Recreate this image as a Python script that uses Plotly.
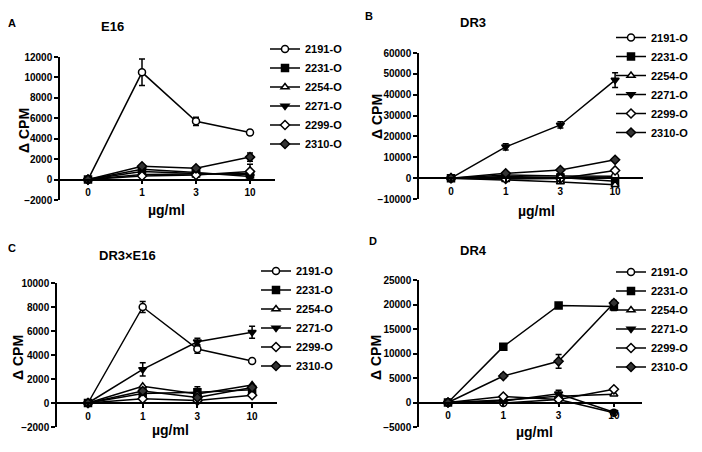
import plotly.graph_objects as go

# reference canvas is 702x452; the page body adds an 8px margin, so the
# figure is made 8px smaller and every reference position is shifted by 8px
W, H = 702, 452
OFF = 8
FW, FH = W - OFF, H - OFF

doses = ["0", "1", "3", "10"]
series_names = ["2191-O", "2231-O", "2254-O", "2271-O", "2299-O", "2310-O"]

# Panel A: E16
e16_2191 = [0, 10500, 5700, 4600]
e16_2191_err = [None, 1300, 400, 200]
e16_2231 = [0, 800, 600, 500]
e16_2254 = [0, 500, 550, 600]
e16_2271 = [0, 1000, 700, 300]
e16_2299 = [0, 350, 450, 800]
e16_2299_err = [None, None, None, 700]
e16_2310 = [0, 1300, 1100, 2200]
e16_2310_err = [None, None, None, 400]

# Panel B: DR3
dr3_2191 = [0, 1500, 1000, 900]
dr3_2231 = [0, 800, 300, -1500]
dr3_2254 = [0, -800, -1800, -3200]
dr3_2271 = [0, 15000, 25500, 47000]
dr3_2271_err = [None, 1500, 1500, 3500]
dr3_2299 = [0, -400, -200, 3700]
dr3_2310 = [0, 2300, 3900, 8800]

# Panel C: DR3xE16
c_2191 = [0, 8000, 4500, 3500]
c_2191_err = [None, 450, 350, None]
c_2231 = [0, 800, 900, 1100]
c_2231_err = [None, None, 450, None]
c_2254 = [0, 1400, 750, 1500]
c_2271 = [0, 2800, 5100, 5900]
c_2271_err = [None, 550, 300, 500]
c_2299 = [0, 350, 200, 650]
c_2310 = [0, 1000, 450, 1300]

# Panel D: DR4
d_2191 = [0, -100, 600, -2100]
d_2231 = [0, 11400, 19800, 19600]
d_2231_err = [None, 500, 300, 800]
d_2254 = [0, 500, 1300, 1700]
d_2271 = [0, 300, 1800, -2000]
d_2271_err = [None, None, 700, None]
d_2299 = [0, 1200, 600, 2700]
d_2310 = [0, 5400, 8400, 20300]
d_2310_err = [None, 400, 1400, 500]

styles = {
    "2191-O": dict(symbol="circle", color="white"),
    "2231-O": dict(symbol="square", color="black"),
    "2254-O": dict(symbol="triangle-up", color="white"),
    "2271-O": dict(symbol="triangle-down", color="black"),
    "2299-O": dict(symbol="diamond", color="white"),
    "2310-O": dict(symbol="diamond", color="#333333"),
}

panels = [
    dict(letter="A", title="E16",
         data=[(e16_2191, e16_2191_err), (e16_2231, None), (e16_2254, None),
               (e16_2271, None), (e16_2299, e16_2299_err), (e16_2310, e16_2310_err)],
         xpx=(60, 275), x0=88, dx=54, ypx=(57, 200), yr=(-2000, 12000), dtick=2000,
         letter_pos=(12, 23), title_pos=(112, 26), ytitle_pos=(24, 130), xtitle_pos=(166, 210),
         legend_pos=(265, 96.5)),
    dict(letter="B", title="DR3",
         data=[(dr3_2191, None), (dr3_2231, None), (dr3_2254, None),
               (dr3_2271, dr3_2271_err), (dr3_2299, None), (dr3_2310, None)],
         xpx=(419, 643), x0=451, dx=54.7, ypx=(53, 199), yr=(-10000, 60000), dtick=10000,
         letter_pos=(369, 16), title_pos=(473, 22), ytitle_pos=(377, 117), xtitle_pos=(536, 211),
         legend_pos=(611, 85)),
    dict(letter="C", title="DR3×E16",
         data=[(c_2191, c_2191_err), (c_2231, c_2231_err), (c_2254, None),
               (c_2271, c_2271_err), (c_2299, None), (c_2310, None)],
         xpx=(57, 277), x0=88, dx=54.7, ypx=(283, 427), yr=(-2000, 10000), dtick=2000,
         letter_pos=(12, 248), title_pos=(127, 255), ytitle_pos=(18, 358), xtitle_pos=(170, 430),
         legend_pos=(256, 318.5)),
    dict(letter="D", title="DR4",
         data=[(d_2191, None), (d_2231, d_2231_err), (d_2254, None),
               (d_2271, d_2271_err), (d_2299, None), (d_2310, d_2310_err)],
         xpx=(419, 642), x0=448, dx=55.3, ypx=(280, 427), yr=(-5000, 25000), dtick=5000,
         letter_pos=(373, 241), title_pos=(473, 251), ytitle_pos=(376, 358), xtitle_pos=(534, 432),
         legend_pos=(611, 319.5)),
]


def fx(px):
    return (px - OFF) / FW


def fy(py):
    return 1 - (py - OFF) / FH


FONT = "Liberation Sans, Arial, sans-serif"
fig = go.Figure()
annotations = []
layout = {}

for i, p in enumerate(panels):
    n = i + 1
    xa = "x" if n == 1 else f"x{n}"
    ya = "y" if n == 1 else f"y{n}"
    lg = "legend" if n == 1 else f"legend{n}"
    xdom = [fx(p["xpx"][0]), fx(p["xpx"][1])]
    ydom = [fy(p["ypx"][1]), fy(p["ypx"][0])]
    xr = [(p["xpx"][0] - p["x0"]) / p["dx"], (p["xpx"][1] - p["x0"]) / p["dx"]]
    ymin, ymax = p["yr"]
    zero_pos = ydom[0] + (0 - ymin) / (ymax - ymin) * (ydom[1] - ydom[0])

    for name, (vals, err) in zip(series_names, p["data"]):
        st = styles[name]
        tr = dict(
            x=list(range(len(doses))), y=vals, name=name, mode="lines+markers",
            xaxis=xa, yaxis=ya, legend=lg,
            line=dict(color="black", width=1.5),
            marker=dict(symbol=st["symbol"], size=7, color=st["color"],
                        line=dict(color="black", width=1.5)),
        )
        if err is not None:
            tr["error_y"] = dict(type="data", array=err, visible=True,
                                 color="black", thickness=1.5, width=3)
        fig.add_trace(go.Scatter(**tr))

    axkey = "xaxis" if n == 1 else f"xaxis{n}"
    aykey = "yaxis" if n == 1 else f"yaxis{n}"
    layout[axkey] = dict(
        domain=xdom, range=xr, anchor="free", position=zero_pos,
        tickvals=list(range(len(doses))), ticktext=doses,
        showline=True, linecolor="black", linewidth=1.5,
        ticks="outside", ticklen=4, tickwidth=1.5, tickcolor="black",
        showgrid=False, zeroline=False, automargin=False,
        tickfont=dict(family=FONT, size=10, color="black", weight="bold"),
        fixedrange=True,
    )
    layout[aykey] = dict(
        domain=ydom, range=[ymin, ymax], anchor=xa,
        tickmode="linear", tick0=ymin, dtick=p["dtick"], tickformat="d",
        showline=True, linecolor="black", linewidth=1.5,
        ticks="outside", ticklen=4, tickwidth=1.5, tickcolor="black",
        showgrid=False, zeroline=False, automargin=False,
        tickfont=dict(family=FONT, size=10, color="black", weight="bold"),
        fixedrange=True,
    )
    layout[lg] = dict(
        x=fx(p["legend_pos"][0]), y=fy(p["legend_pos"][1]),
        xanchor="left", yanchor="middle", bgcolor="rgba(0,0,0,0)",
        font=dict(family=FONT, size=11, color="black", weight="bold"),
        itemwidth=30, tracegroupgap=0,
    )

    def ann(text, pos, size, angle=0):
        return dict(text=text, x=fx(pos[0]), y=fy(pos[1]), xref="paper", yref="paper",
                    showarrow=False, xanchor="center", yanchor="middle", textangle=angle,
                    font=dict(family=FONT, size=size, color="black", weight="bold"))

    annotations.append(ann(p["letter"], p["letter_pos"], 11))
    annotations.append(ann(p["title"], p["title_pos"], 13))
    annotations.append(ann("Δ CPM", p["ytitle_pos"], 14, -90))
    annotations.append(ann("µg/ml", p["xtitle_pos"], 14))

fig.update_layout(
    width=FW, height=FH, margin=dict(l=0, r=0, t=0, b=0, pad=0, autoexpand=False),
    paper_bgcolor="white", plot_bgcolor="white",
    annotations=annotations, **layout,
)

fig.write_html("out.html")
